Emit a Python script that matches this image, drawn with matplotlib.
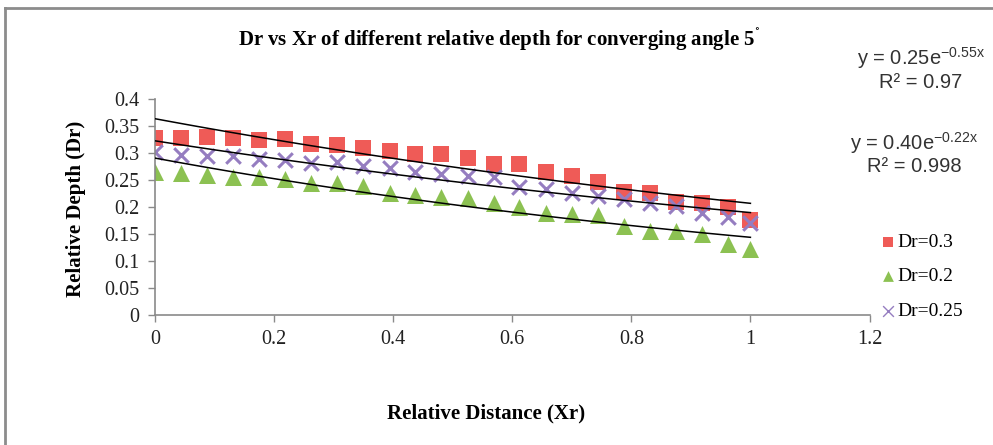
import numpy as np
import matplotlib.pyplot as plt
from matplotlib.lines import Line2D

plt.rcParams['font.family'] = ['Liberation Serif', 'DejaVu Serif']
plt.rcParams['mathtext.default'] = 'regular'

# relative distance (Xr)
xr = [0, 0.044, 0.087, 0.131, 0.175, 0.219, 0.262, 0.306, 0.35, 0.394, 0.437, 0.481,
      0.525, 0.569, 0.612, 0.656, 0.70, 0.744, 0.787, 0.831, 0.875, 0.919, 0.962, 1.0]

# relative depth (Dr) for each series
dr_03 = [0.329, 0.329, 0.331, 0.328, 0.325, 0.326, 0.318, 0.315, 0.309, 0.304, 0.298, 0.298,
         0.291, 0.280, 0.280, 0.266, 0.257, 0.246, 0.229, 0.227, 0.210, 0.207, 0.201, 0.176]
dr_02 = [0.266, 0.263, 0.260, 0.255, 0.255, 0.252, 0.245, 0.244, 0.239, 0.226, 0.223, 0.218,
         0.217, 0.207, 0.201, 0.190, 0.187, 0.186, 0.165, 0.156, 0.156, 0.150, 0.131, 0.122]
dr_025 = [0.303, 0.297, 0.294, 0.294, 0.289, 0.288, 0.281, 0.283, 0.276, 0.272, 0.266, 0.262,
          0.258, 0.255, 0.238, 0.234, 0.227, 0.221, 0.216, 0.207, 0.202, 0.190, 0.182, 0.170]

# exponential trendlines y = a*exp(-b*x), as drawn in the chart
trend_a = [0.364, 0.323, 0.291]
trend_b = [0.564, 0.531, 0.703]

eq_labels = ['y = 0.25e$^{-0.55x}$', 'R² = 0.97', 'y = 0.40e$^{-0.22x}$', 'R² = 0.998']

W, H = 993, 445
fig = plt.figure(figsize=(W / 100, H / 100), dpi=100)
ax = fig.add_axes([155 / W, 1 - 315 / H, 714.5 / W, 215.7 / H])

ax.scatter(xr, dr_03, marker='s', s=125, color='#EF5B57', linewidths=0, label='Dr=0.3', zorder=2)
ax.scatter(xr, dr_02, marker='^', s=150, color='#8CC152', linewidths=0, label='Dr=0.2', zorder=2)
ax.scatter(xr, dr_025, marker='x', s=110, color='#957DC0', linewidths=2.2, label='Dr=0.25', zorder=2)

xx = np.linspace(0, 1, 60)
for a, b in zip(trend_a, trend_b):
    ax.plot(xx, a * np.exp(-b * xx), color='black', lw=1.1, zorder=3)

ax.set_xlim(0, 1.2)
ax.set_ylim(0, 0.4)
ax.set_xticks([0, 0.2, 0.4, 0.6, 0.8, 1, 1.2])
ax.set_xticklabels(['0', '0.2', '0.4', '0.6', '0.8', '1', '1.2'])
ax.set_yticks([0, 0.05, 0.1, 0.15, 0.2, 0.25, 0.3, 0.35, 0.4])
ax.set_yticklabels(['0', '0.05', '0.1', '0.15', '0.2', '0.25', '0.3', '0.35', '0.4'])
for s in ['top', 'right']:
    ax.spines[s].set_visible(False)
for s in ['left', 'bottom']:
    ax.spines[s].set_color('#8a8a8a')
    ax.spines[s].set_linewidth(1.2)
ax.tick_params(axis='both', colors='#8a8a8a', labelcolor='#222222', labelsize=14.5, length=5, width=1)
ax.tick_params(axis='x', pad=6)
ax.tick_params(axis='y', pad=6)
ax.patch.set_visible(False)

fig.text(499 / W, 1 - 40 / H, 'Dr vs Xr of different relative depth for converging angle 5$^{\u02da}$',
         ha='center', va='center', fontsize=15, fontweight='bold')
fig.text(76 / W, 1 - 209 / H, 'Relative Depth (Dr)', rotation=90, ha='center', va='center',
         fontsize=15, fontweight='bold')
fig.text(486 / W, 1 - 413 / H, 'Relative Distance (Xr)', ha='center', va='center',
         fontsize=15, fontweight='bold')

eq_pos = [(921, 58), (921, 82), (914, 143), (914, 166)]
for txt, (px, py) in zip(eq_labels, eq_pos):
    fig.text(px / W, 1 - py / H, txt, ha='center', va='center', fontsize=14.5,
             family='Liberation Sans', color='#333333')

leg = ax.legend(loc='upper left', bbox_to_anchor=(870 / W, 1 - 224 / H), bbox_transform=fig.transFigure,
                frameon=False, fontsize=14, handletextpad=0.0, labelspacing=0.85, borderpad=0,
                handlelength=0.9)
for h in leg.legend_handles:
    h.set_sizes([60])
leg.legend_handles[2].set_linewidth(1.0)

# outer chart border
fig.add_artist(Line2D([4.5 / W, 4.5 / W], [0, 1 - 8 / H], color='#8c8c8c', lw=2))
fig.add_artist(Line2D([4.5 / W, 1], [1 - 8 / H, 1 - 8 / H], color='#8c8c8c', lw=2))

fig.savefig('out.png', dpi=100)
